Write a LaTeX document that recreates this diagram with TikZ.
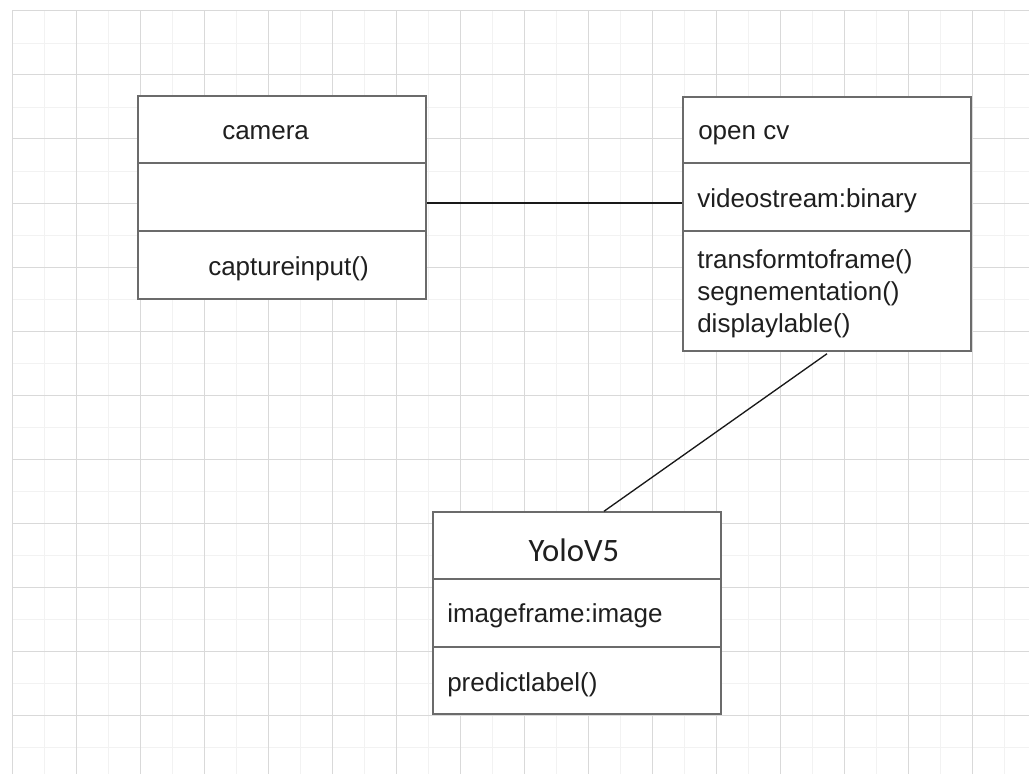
\documentclass[tikz,border=0pt]{standalone}
\usepackage{fontspec}
\setmainfont{Liberation Sans}
\newfontfamily\carlito{Carlito}
\usetikzlibrary{calc,fit}
\begin{document}
\begin{tikzpicture}[x=0.75pt,y=-0.75pt,
  majorline/.style={draw=black!15, line width=0.75pt},
  minorline/.style={draw=black!5, line width=0.6pt},
  umlbox/.style={draw=black!58, fill=white, line width=1.1pt, inner sep=0pt, rectangle},
  divider/.style={draw=black!58, line width=1.1pt},
  link/.style={draw=black!90, line width=1pt},
  lbl/.style={inner sep=0pt, font=\fontsize{19.5}{23}\selectfont, anchor=base west, text=black!88}]
\useasboundingbox (0,0) rectangle (1029,774);
\fill[white] (0,0) rectangle (1029,774);
% grid
\foreach \x in {44,108,...,1029} \draw[minorline] (\x,11) -- (\x,774);
\foreach \y in {43,107,...,774} \draw[minorline] (12,\y) -- (1029,\y);
\foreach \x in {12,76,...,1029} \draw[majorline] (\x,11) -- (\x,774);
\foreach \y in {11,75,...,774} \draw[majorline] (12,\y) -- (1029,\y);
% boxes
\node[umlbox, fit={(138,96) (426,299)}] (camera) {};
\node[umlbox, fit={(683,97) (971,351)}] (opencv) {};
\node[umlbox, fit={(433,512) (721,714)}] (yolo) {};
% dividers
\draw[divider] (camera.west |- 0,163) -- (camera.east |- 0,163);
\draw[divider] (camera.west |- 0,231) -- (camera.east |- 0,231);
\draw[divider] (opencv.west |- 0,163) -- (opencv.east |- 0,163);
\draw[divider] (opencv.west |- 0,231) -- (opencv.east |- 0,231);
\draw[divider] (yolo.west |- 0,579) -- (yolo.east |- 0,579);
\draw[divider] (yolo.west |- 0,647) -- (yolo.east |- 0,647);
% connectors
\draw[link] (camera.east |- 0,203) -- (opencv.west |- 0,203);
\draw[link] ($(opencv.south)+(0,2)$) -- ($(yolo.north)+(27,0)$);
% texts
\node[lbl] (tcam) at (222,139.5) {camera};
\node[lbl] (tcap) at (208,275) {captureinput()};
\node[lbl] (tocv) at (698,139) {open cv};
\node[lbl] (tvid) at (697,207) {videostream:binary};
\node[lbl] (ttra) at (697,268) {transformtoframe()};
\node[lbl] (tseg) at (697,300) {segnementation()};
\node[lbl] (tdis) at (697,332) {displaylable()};
\node[inner sep=0pt, anchor=base, text=black!88, font=\carlito\fontsize{24.5}{28}\selectfont] (tyolo) at (574,561) {YoloV5};
\node[lbl] (timg) at (447,622) {imageframe:image};
\node[lbl] (tpre) at (447,691) {predictlabel()};
\end{tikzpicture}
\end{document}
